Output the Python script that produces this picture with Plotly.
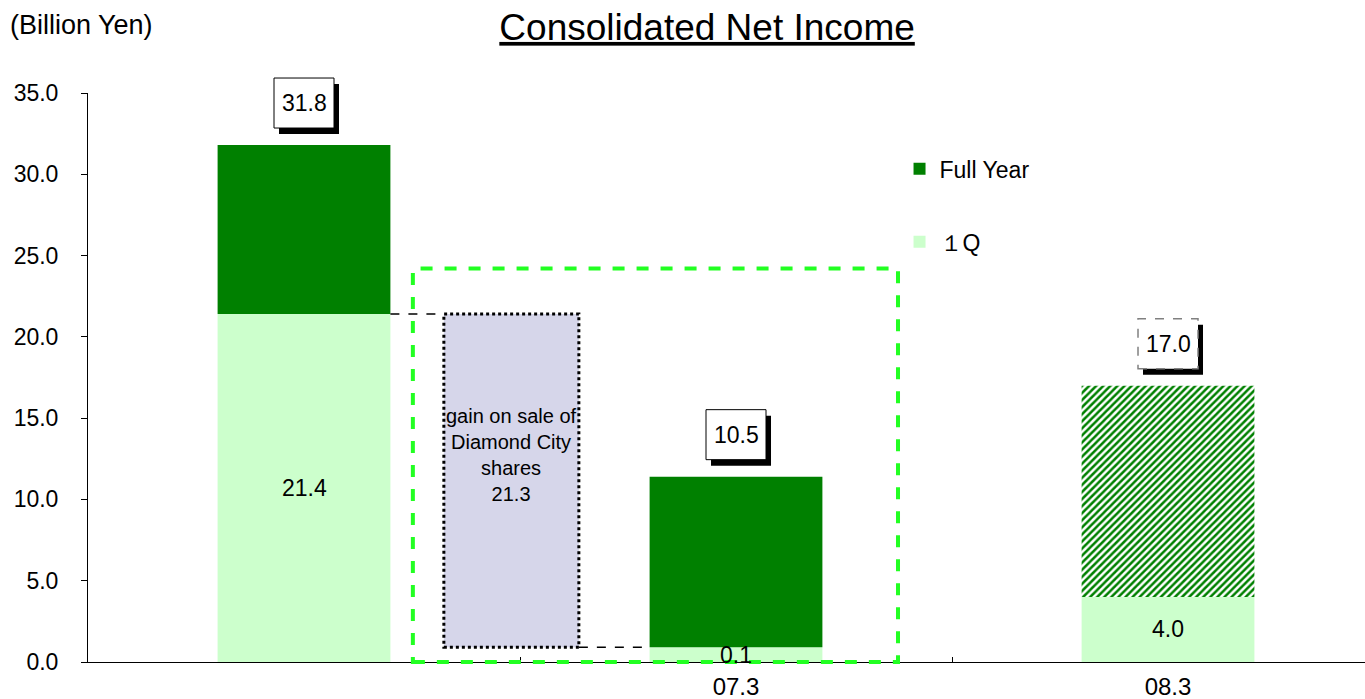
import plotly.graph_objects as go

# ---------------- data ----------------
periods = ["", "07.3", "08.3"]
q1_values = [21.4, 0.9, 4.0]          # 1Q segment (bar height as drawn)
q1_labels = ["21.4", "0.1", "4.0"]
full_year_totals = [31.8, 11.4, 17.0]  # top of full-year bar as drawn
full_year_labels = ["31.8", "10.5", "17.0"]
gain_base = 0.9
gain_top = 21.4
gain_label = "gain on sale of<br>Diamond City<br>shares<br>21.3"
highlight_top = 24.2

# ---------------- style ----------------
FONT = "Arial, 'Liberation Sans', sans-serif"
DARK = "#008000"
LIGHT = "#CCFFCC"
LAVENDER = "#D6D6EA"
BRIGHT = "#22FF22"
BAR_W = 0.4
GAIN_X = 0.48
GAIN_W = 0.3125
XR = [-0.5, 2.456]
YR = [0, 35]


def dom_x(v):
    return (v - XR[0]) / (XR[1] - XR[0])


def dom_y(v):
    return (v - YR[0]) / (YR[1] - YR[0])


x = list(range(len(periods)))
fy_seg = [t - q for t, q in zip(full_year_totals, q1_values)]

fig = go.Figure()

fig.add_trace(go.Bar(
    x=x, y=q1_values, base=[0] * len(x), width=BAR_W,
    marker=dict(color=LIGHT, line=dict(width=0)),
    name="１Q", legendgroup="q1", legendrank=2, hoverinfo="skip",
))
fig.add_trace(go.Bar(
    x=x, y=fy_seg, base=q1_values, width=BAR_W,
    marker=dict(color=DARK, line=dict(width=0),
                pattern=dict(shape=["", "", "/"], fgcolor=DARK, bgcolor="white",
                             size=5, solidity=0.5, fillmode="replace")),
    name="Full Year", legendgroup="fy", legendrank=1, hoverinfo="skip",
))
fig.add_trace(go.Bar(
    x=[GAIN_X], y=[gain_top - gain_base], base=[gain_base], width=GAIN_W,
    marker=dict(color=LAVENDER, line=dict(width=0)),
    showlegend=False, hoverinfo="skip",
))

shapes = []
annotations = []

# dotted border around gain bar
shapes.append(dict(type="rect", xref="x", yref="y",
                   x0=GAIN_X - GAIN_W / 2, x1=GAIN_X + GAIN_W / 2,
                   y0=gain_base, y1=gain_top,
                   line=dict(color="black", width=3, dash="dot"), layer="above"))
# dashed connectors
shapes.append(dict(type="line", xref="x", yref="y",
                   x0=x[0] + BAR_W / 2, x1=GAIN_X - GAIN_W / 2,
                   y0=q1_values[0], y1=q1_values[0],
                   line=dict(color="black", width=1.5, dash="dash")))
shapes.append(dict(type="line", xref="x", yref="y",
                   x0=GAIN_X + GAIN_W / 2, x1=x[1] - BAR_W / 2,
                   y0=gain_base, y1=gain_base,
                   line=dict(color="black", width=1.5, dash="dash")))
# green highlight box
shapes.append(dict(type="rect", xref="x domain", yref="y domain",
                   x0=dom_x(0.252), x1=dom_x(1.375), y0=dom_y(0), y1=dom_y(highlight_top),
                   line=dict(color=BRIGHT, width=4, dash="dash"), layer="above"))

# value boxes above bars (domain refs so they are not clipped by the plot area)
for i, (tot, lab) in enumerate(zip(full_year_totals, full_year_labels)):
    dashed = (i == 2)
    shapes.append(dict(type="rect", xref="x domain", yref="y domain",
                       xsizemode="pixel", ysizemode="pixel",
                       xanchor=dom_x(x[i]), yanchor=dom_y(tot),
                       x0=-25, x1=35, y0=11, y1=61,
                       fillcolor="black", line=dict(width=0), layer="above"))
    shapes.append(dict(type="rect", xref="x domain", yref="y domain",
                       xsizemode="pixel", ysizemode="pixel",
                       xanchor=dom_x(x[i]), yanchor=dom_y(tot),
                       x0=-30, x1=30, y0=17, y1=67,
                       fillcolor="white",
                       line=dict(color="#808080" if dashed else "black",
                                 width=1.5 if dashed else 1,
                                 dash="dash" if dashed else "solid"),
                       layer="above"))
    annotations.append(dict(x=x[i], y=tot, xref="x", yref="y", text=lab,
                            showarrow=False, yshift=42,
                            font=dict(size=23, color="black", family=FONT)))

# 1Q labels
for i, (q, lab) in enumerate(zip(q1_values, q1_labels)):
    annotations.append(dict(x=x[i], y=q / 2, xref="x", yref="y", text=lab,
                            showarrow=False,
                            font=dict(size=23, color="black", family=FONT)))

# gain label
annotations.append(dict(x=GAIN_X, y=(gain_base + gain_top) / 2 + 1.6, xref="x", yref="y",
                        text=gain_label, showarrow=False,
                        font=dict(size=20, color="black", family=FONT)))

# unit label
annotations.append(dict(x=-0.0626, y=1.1195, xref="paper", yref="paper",
                        xanchor="left", yanchor="middle", text="(Billion Yen)",
                        showarrow=False, font=dict(size=27, color="black", family=FONT)))

fig.update_layout(
    width=1365, height=699,
    margin=dict(l=88, r=0, t=93, b=37, pad=0, autoexpand=False),
    paper_bgcolor="white", plot_bgcolor="white",
    barmode="overlay",
    font=dict(family=FONT, color="black"),
    title=dict(text="Consolidated Net Income", x=0.518, xanchor="center",
               xref="container", y=1 - 27 / 699, yanchor="middle",
               font=dict(size=37, color="black", family=FONT, lineposition="under")),
    showlegend=True,
    legend=dict(x=0.6355, y=0.9045, xanchor="left", yanchor="top",
                font=dict(size=23, family=FONT, color="black"),
                tracegroupgap=40, bgcolor="rgba(0,0,0,0)", itemwidth=30),
    shapes=shapes,
    annotations=annotations,
)

fig.update_xaxes(
    range=XR, tickmode="array", tickvals=x[1:], ticktext=periods[1:],
    ticks="", showgrid=False, zeroline=False, automargin=False,
    showline=True, linecolor="black", linewidth=1,
    tickfont=dict(size=24, family=FONT, color="black"),
    ticklabelstandoff=3,
    minor=dict(tickvals=[0.5, 1.5], ticks="inside", ticklen=5,
               tickcolor="black", tickwidth=1, showgrid=False),
)
fig.update_yaxes(
    range=YR, dtick=5, tick0=0, tickformat=".1f",
    ticks="outside", ticklen=6, tickcolor="black", tickwidth=1,
    showgrid=False, zeroline=False, automargin=False,
    showline=True, linecolor="black", linewidth=1,
    tickfont=dict(size=23, family=FONT, color="black"),
    ticklabelstandoff=18,
)

fig.write_html("out.html", config={"displayModeBar": False},
               post_script="document.body.style.margin='0px';")
